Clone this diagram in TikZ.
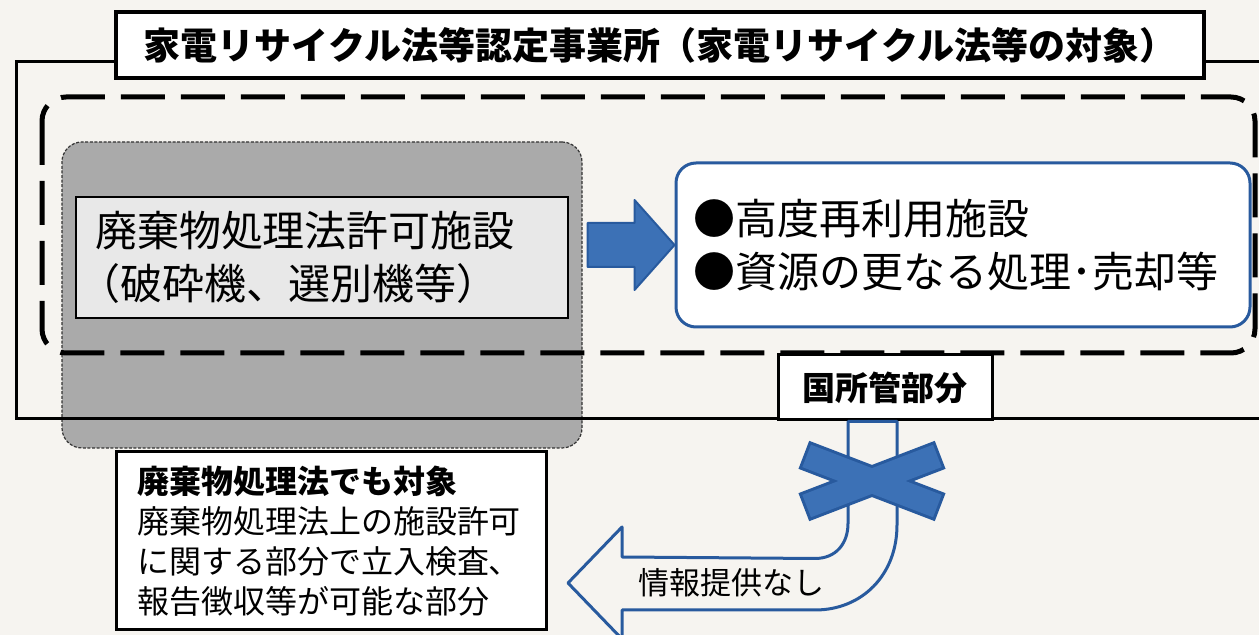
\documentclass[tikz,border=0pt]{standalone}
\usepackage{fontspec}
\setmainfont{Noto Sans CJK JP}
\usetikzlibrary{calc}
\definecolor{paper}{RGB}{246,244,240}
\definecolor{boxgray}{RGB}{170,170,170}
\definecolor{pale}{RGB}{232,232,232}
\definecolor{fillblue}{RGB}{60,113,182}
\definecolor{lineblue}{RGB}{40,90,158}
\tikzset{
  frame/.style={draw=black,line width=1.5pt},
  textbox/.style={frame,fill=paper,align=left,anchor=center},
  zone/.style={draw=black,line width=2.5pt,dash pattern=on 22pt off 8pt,rounded corners=12pt},
  grayzone/.style={draw=black!80,line width=0.6pt,dash pattern=on 1.5pt off 0.8pt,fill=boxgray,rounded corners=10pt},
  blockarrow/.style={fill=fillblue,draw=lineblue,line width=1pt,line join=round},
  xbar/.style={rectangle,fill=fillblue,minimum width=70pt,minimum height=12pt,inner sep=0pt}
}
\newcommand{\bigfont}{\fontsize{21}{26.5}\selectfont}
\newcommand{\midfont}{\fontsize{16}{20}\selectfont}
\newcommand{\xbarpair}[2]{\foreach \a in {21,-21} {\node[xbar,draw=lineblue,line width=3pt,rotate=\a] at (#1,#2) {};}
  \foreach \a in {21,-21} {\node[xbar,rotate=\a] at (#1,#2) {};}}

\begin{document}
\begin{tikzpicture}[x=0.5pt,y=-0.5pt]
    \useasboundingbox (0,0) rectangle (1259,635);
    \fill[paper] (0,0) rectangle (1259,635);
    % gray zone lies under the frames
    \node[grayzone,minimum width=260pt,minimum height=153pt] (haikizone) at (322,295) {};
    \draw[frame] (16,62) rectangle (1290,419);
    \draw[zone] (42,97) rectangle (1255,353);
    \node[textbox,line width=2pt,fill=white,minimum width=544pt,minimum height=33pt,align=center,font=\fontsize{18.5}{22}\selectfont\bfseries] (title) at (660,45) {家電リサイクル法等認定事業所（家電リサイクル法等の対象）};
    \node[textbox,line width=1.3pt,fill=pale,minimum width=246pt,minimum height=60.5pt,text width=227pt,inner xsep=9.5pt,font=\bigfont] (haiki) at (322,257.5) {廃棄物処理法許可施設\\\hspace*{-0.4em}（破砕機、選別機等）};
    \node[textbox,draw=lineblue,fill=white,rounded corners=10pt,minimum width=287pt,minimum height=82pt,text width=270pt,inner xsep=8.5pt,font=\bigfont] (kodo) at (963,245) {●高度再利用施設\\●資源の更なる処理･売却等};
    \path[blockarrow] (kodo.west) -- ++(-40,-45) -- ++(0,23) -- ++(-47,0) -- ++(0,44) -- ++(47,0) -- ++(0,23) -- cycle;
    \node[textbox,fill=white,line width=1.5pt,minimum width=107pt,minimum height=32.5pt,font=\fontsize{16.5}{20}\selectfont\bfseries] (kuni) at (885,387.5) {国所管部分};
    % information path, blocked
    \draw[draw=lineblue,line width=1.5pt,fill=paper,line join=round] ($(kuni.south)+(-37,0)$) -- ++(0,102) .. controls ++(0,20) and ++(21,0) .. ++(-33,35) -- (622,557) -- (622,527) -- (568,583) coordinate (noinfo) -- (622,639) -- (622,610) -- (815,610) .. controls (862,610) and (897,575) .. (897,525) -- ($(kuni.south)+(12,0)$) -- cycle;
    \node[font=\fontsize{15.5}{18}\selectfont] (teikyo) at (731,583) {情報提供なし};
    \xbarpair{872}{481}
    \node[textbox,fill=white,minimum width=215pt,minimum height=89pt,text width=194pt,inner xsep=10.5pt,font=\midfont] (taisho) at (331,541) {{\bfseries 廃棄物処理法でも対象}\\廃棄物処理法上の施設許可\\に関する部分で立入検査、\\報告徴収等が可能な部分};
\end{tikzpicture}
\end{document}
